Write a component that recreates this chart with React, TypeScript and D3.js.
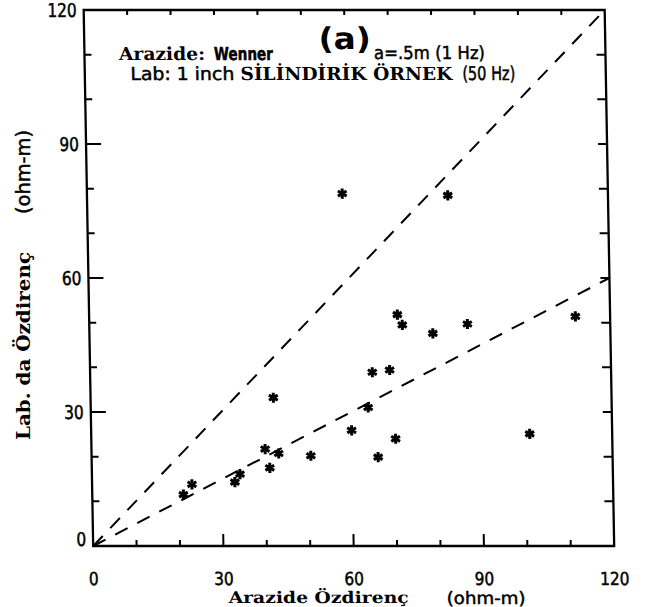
import React from "react";
import * as d3 from "d3";

// ---- data ----
const fieldRes = [21.0, 23.0, 32.9, 34.1, 42.1, 40.0, 43.1, 41.0, 50.5, 60.0, 63.9, 66.0, 70.1, 101.0, 58.8, 83.1, 71.0, 72.1, 79.1, 87.1, 112.0, 65.0, 69.0];
const labRes = [11.5, 13.8, 14.3, 16.1, 33.2, 21.7, 20.7, 17.5, 20.2, 25.9, 31.0, 19.9, 24.0, 25.1, 78.9, 78.5, 51.8, 49.5, 47.6, 49.7, 51.4, 38.9, 39.4];
const refSlopes = [1, 0.5];
const tickLabels = [0, 30, 60, 90, 120];
const tickValues = d3.range(0, 121, 10);
const domainMax = 120;

const W = 646, H = 607;
const L = 83.5, R = 604.5, T = 10, B = 546;
const skewDeg = (Math.atan(9.5 / 536) * 180) / Math.PI;

const SANS = "'DejaVu Sans Condensed', 'DejaVu Sans', sans-serif";
const SERIF = "'DejaVu Serif Condensed', 'DejaVu Serif', 'Liberation Serif', serif";

export default function App() {
  const x = d3.scaleLinear().domain([0, domainMax]).range([L, R]);
  const y = d3.scaleLinear().domain([0, domainMax]).range([B, T]);
  const star = d3.symbol(d3.symbolAsterisk, 72)() as string;
  const points = fieldRes.map((f, i) => ({ f, l: labRes[i] }));
  const line = d3.line<[number, number]>().x((d) => x(d[0])).y((d) => y(d[1]));
  const sansStyle = { fontFamily: SANS, stroke: "#000", strokeWidth: 0.45 } as const;
  const digitW = 9.8;

  return (
    <div style={{ position: "absolute", left: 0, top: 0, width: W, height: H, background: "#fff" }}>
      <svg width={W} height={H} style={{ display: "block" }}>
        <rect width={W} height={H} fill="#fff" />
        <g transform={`skewX(${skewDeg})`}>
          {/* frame */}
          <rect x={L} y={T} width={R - L} height={B - T} fill="none" stroke="#000" strokeWidth={2.3} />
          {/* ticks */}
          {tickValues.filter((v) => v > 0 && v < domainMax).map((v) => {
            const major = v % 30 === 0;
            return (
              <g key={v} stroke="#000" strokeWidth={2}>
                <line x1={x(v)} x2={x(v)} y1={B} y2={B - (major ? 12 : 6)} />
                <line x1={x(v)} x2={x(v)} y1={T} y2={T + 5} />
                <line x1={L} x2={L + (major ? 15 : 7)} y1={y(v)} y2={y(v)} />
                <line x1={R} x2={R - 9} y1={y(v)} y2={y(v)} />
              </g>
            );
          })}
          {/* tick labels */}
          {tickLabels.map((v) => (
            <text key={"x" + v} x={x(v)} y={B + 39} textAnchor="middle" fontSize={18} {...sansStyle}
              textLength={digitW * String(v).length} lengthAdjust="spacingAndGlyphs">
              {v}
            </text>
          ))}
          {tickLabels.map((v) => (
            <text key={"y" + v} x={L - 7} y={y(v) + (v === 0 ? 0 : 7)} textAnchor="end" fontSize={19} {...sansStyle}
              textLength={digitW * String(v).length} lengthAdjust="spacingAndGlyphs">
              {v}
            </text>
          ))}
          {/* reference dashed lines */}
          {refSlopes.map((s) => (
            <path
              key={s}
              d={line([[0, 0], [domainMax, domainMax * s]]) as string}
              fill="none"
              stroke="#000"
              strokeWidth={2}
              strokeDasharray="14 11"
            />
          ))}
          {/* points */}
          {points.map((p, i) => (
            <path key={i} d={star} transform={`translate(${x(p.f)},${y(p.l)})`} fill="none" stroke="#000" strokeWidth={3} />
          ))}
          {/* annotations */}
          <text x={118} y={60} fontFamily={SERIF} fontWeight="bold" fontSize={18} textLength={86} lengthAdjust="spacingAndGlyphs">Arazide:</text>
          <text x={213} y={60} fontSize={18} {...sansStyle} fontWeight="bold" textLength={59} lengthAdjust="spacingAndGlyphs">Wenner</text>
          <text x={318} y={49} fontFamily="'DejaVu Sans', sans-serif" fontWeight="bold" fontSize={30} textLength={52} lengthAdjust="spacingAndGlyphs">(a)</text>
          <text x={373} y={59} fontSize={18} {...sansStyle} textLength={111} lengthAdjust="spacingAndGlyphs">a=.5m  (1 Hz)</text>
          <text x={129} y={80} fontSize={18} {...sansStyle} textLength={104} lengthAdjust="spacingAndGlyphs">Lab: 1 inch</text>
          <text x={239} y={80} fontFamily={SERIF} fontWeight="bold" fontSize={18} textLength={212} lengthAdjust="spacingAndGlyphs">SİLİNDİRİK ÖRNEK</text>
          <text x={461} y={80} fontSize={19} {...sansStyle} textLength={53} lengthAdjust="spacingAndGlyphs">(50 Hz)</text>
          {/* x axis title */}
          <text x={218} y={603} fontFamily={SERIF} fontWeight="bold" fontSize={16} textLength={180} lengthAdjust="spacingAndGlyphs">Arazide Özdirenç</text>
          <text x={436} y={604} fontSize={17} {...sansStyle} textLength={79} lengthAdjust="spacingAndGlyphs">(ohm-m)</text>
        </g>
        {/* y axis title (unskewed) */}
        <g transform="translate(30,0) rotate(-90)">
          <text x={-440} y={0} fontFamily={SERIF} fontWeight="bold" fontSize={18} textLength={188} lengthAdjust="spacingAndGlyphs">Lab. da Özdirenç</text>
          <text x={-214} y={0} fontSize={19} {...sansStyle} textLength={84} lengthAdjust="spacingAndGlyphs">(ohm-m)</text>
        </g>
      </svg>
    </div>
  );
}
